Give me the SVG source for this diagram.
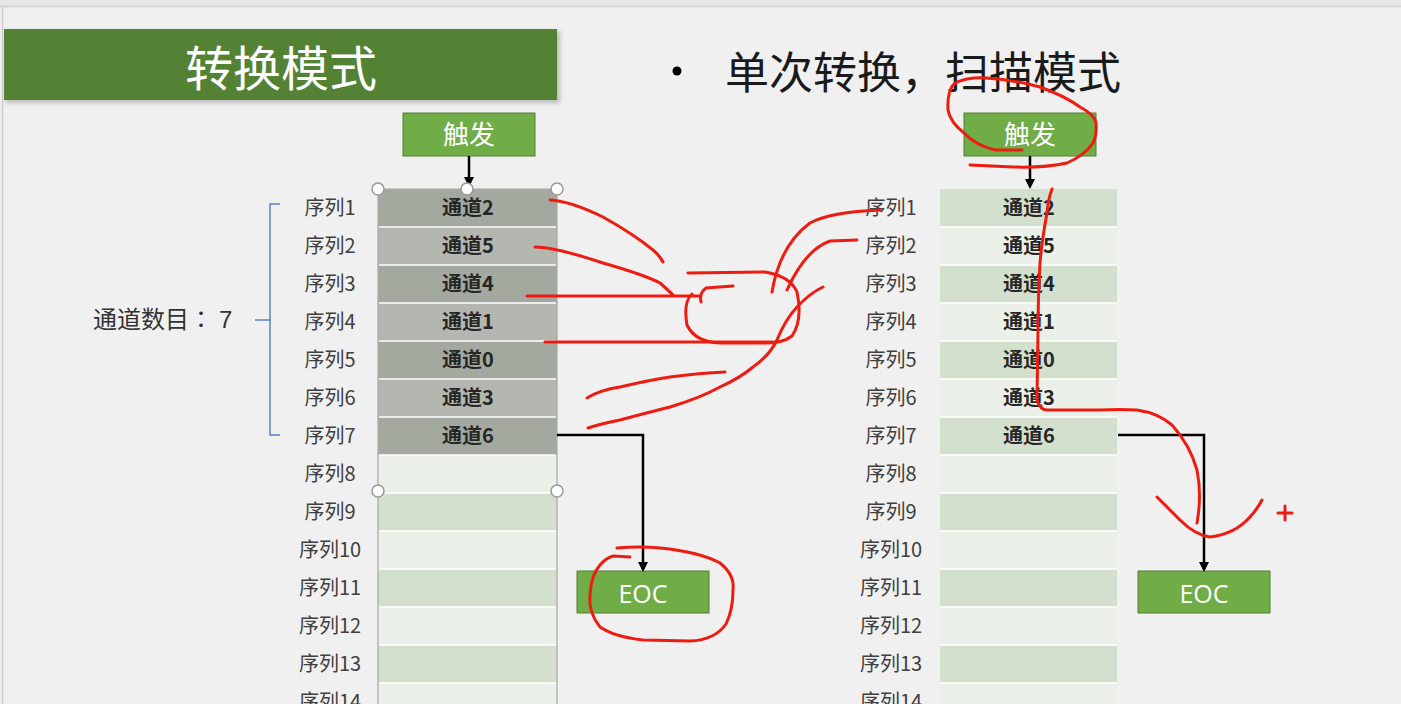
<svg xmlns="http://www.w3.org/2000/svg" width="1401" height="704" viewBox="0 0 1401 704">
<defs>
<style>
.t{font-family:"Noto Sans CJK SC","Liberation Sans",sans-serif;}
.lbl{font-family:"Noto Sans CJK SC",sans-serif;font-size:20px;fill:#404040;text-anchor:middle;}
.ch{font-family:"Noto Sans CJK SC",sans-serif;font-size:20px;font-weight:bold;fill:#262626;text-anchor:middle;}
.odd{fill:#d4e0ce;}
.even{fill:#ebf0e8;}
.godd{fill:#a4a9a0;}
.geven{fill:#b4b6b0;}
.sep{stroke:#ffffff;stroke-width:1.5;}
.box{fill:#70ad47;stroke:#507e32;stroke-width:1;}
.boxt{font-family:"Noto Sans CJK SC",sans-serif;font-size:26px;fill:#ffffff;text-anchor:middle;}
.eoct{font-family:"Open Sans","Liberation Sans",sans-serif;font-size:25px;fill:#ffffff;text-anchor:middle;}
.conn{fill:none;stroke:#000;stroke-width:2.5;}
.red{fill:none;stroke:#ee1c10;stroke-width:3;stroke-linecap:round;stroke-linejoin:round;}
.handle{fill:#fff;stroke:#9a9a9a;stroke-width:1.5;}
</style>
<marker id="ah" markerWidth="10" markerHeight="10" refX="7" refY="5" orient="auto" markerUnits="userSpaceOnUse">
<path d="M0,0 L10,5 L0,10 z" fill="#000"/>
</marker>
<filter id="sh" x="-5%" y="-20%" width="110%" height="150%">
<feGaussianBlur stdDeviation="2"/>
</filter>
</defs>
<rect x="0" y="0" width="1401" height="704" fill="#f0f0f0"/>
<rect x="0" y="0" width="1401" height="6" fill="#e6e6e6"/>
<line x1="0" y1="6.5" x2="1401" y2="6.5" stroke="#cfcfcf" stroke-width="1.5"/>
<line x1="2.5" y1="7" x2="2.5" y2="704" stroke="#cccccc" stroke-width="1.5"/>

<g id="title">
<rect x="6" y="31" width="554" height="72" fill="#888" opacity="0.5" filter="url(#sh)"/>
<rect x="4" y="29" width="553" height="71" fill="#548235"/>
<text x="281" y="86" class="t" font-size="48" fill="#ffffff" text-anchor="middle">转换模式</text>
</g>
<g id="bullet">
<circle cx="677" cy="71" r="4.5" fill="#000"/>
<text x="725" y="89" class="t" font-size="44" fill="#1a1a1a">单次转换，扫描模式</text>
</g>

<g id="count-label">
<text x="93" y="328" class="t" font-size="24" fill="#333">通道数目<tspan x="189" font-family="Noto Sans CJK TC, sans-serif">：</tspan><tspan x="219" font-family="Liberation Sans, sans-serif">7</tspan></text>
<path d="M280,204 L270,204 L270,435 L280,435 M270,320 L255,320" fill="none" stroke="#5b80c0" stroke-width="1.5"/>
</g>

<g id="left-table">
<rect x="378" y="189" width="179" height="38" class="godd"/>
<rect x="378" y="227" width="179" height="38" class="geven"/>
<rect x="378" y="265" width="179" height="38" class="godd"/>
<rect x="378" y="303" width="179" height="38" class="geven"/>
<rect x="378" y="341" width="179" height="38" class="godd"/>
<rect x="378" y="379" width="179" height="38" class="geven"/>
<rect x="378" y="417" width="179" height="38" class="godd"/>
<rect x="378" y="455" width="179" height="38" class="even"/>
<rect x="378" y="493" width="179" height="38" class="odd"/>
<rect x="378" y="531" width="179" height="38" class="even"/>
<rect x="378" y="569" width="179" height="38" class="odd"/>
<rect x="378" y="607" width="179" height="38" class="even"/>
<rect x="378" y="645" width="179" height="38" class="odd"/>
<rect x="378" y="683" width="179" height="38" class="even"/>
<path class="sep" d="M379,227H556M379,265H556M379,303H556M379,341H556M379,379H556M379,417H556M379,455H556M379,493H556M379,531H556M379,569H556M379,607H556M379,645H556M379,683H556"/>
<path d="M378,704V189H557V704" fill="none" stroke="#a8a8a8" stroke-width="1.2"/>
<text x="468" y="215" class="ch">通道2</text>
<text x="468" y="253" class="ch">通道5</text>
<text x="468" y="291" class="ch">通道4</text>
<text x="468" y="329" class="ch">通道1</text>
<text x="468" y="367" class="ch">通道0</text>
<text x="468" y="405" class="ch">通道3</text>
<text x="468" y="443" class="ch">通道6</text>
<text x="330" y="215" class="lbl">序列1</text>
<text x="330" y="253" class="lbl">序列2</text>
<text x="330" y="291" class="lbl">序列3</text>
<text x="330" y="329" class="lbl">序列4</text>
<text x="330" y="367" class="lbl">序列5</text>
<text x="330" y="405" class="lbl">序列6</text>
<text x="330" y="443" class="lbl">序列7</text>
<text x="330" y="481" class="lbl">序列8</text>
<text x="330" y="519" class="lbl">序列9</text>
<text x="330" y="557" class="lbl">序列10</text>
<text x="330" y="595" class="lbl">序列11</text>
<text x="330" y="633" class="lbl">序列12</text>
<text x="330" y="671" class="lbl">序列13</text>
<text x="330" y="709" class="lbl">序列14</text>
</g>

<g id="right-table">
<rect x="940" y="189" width="177" height="38" class="odd"/>
<rect x="940" y="227" width="177" height="38" class="even"/>
<rect x="940" y="265" width="177" height="38" class="odd"/>
<rect x="940" y="303" width="177" height="38" class="even"/>
<rect x="940" y="341" width="177" height="38" class="odd"/>
<rect x="940" y="379" width="177" height="38" class="even"/>
<rect x="940" y="417" width="177" height="38" class="odd"/>
<rect x="940" y="455" width="177" height="38" class="even"/>
<rect x="940" y="493" width="177" height="38" class="odd"/>
<rect x="940" y="531" width="177" height="38" class="even"/>
<rect x="940" y="569" width="177" height="38" class="odd"/>
<rect x="940" y="607" width="177" height="38" class="even"/>
<rect x="940" y="645" width="177" height="38" class="odd"/>
<rect x="940" y="683" width="177" height="38" class="even"/>
<path class="sep" d="M940,227H1117M940,265H1117M940,303H1117M940,341H1117M940,379H1117M940,417H1117M940,455H1117M940,493H1117M940,531H1117M940,569H1117M940,607H1117M940,645H1117M940,683H1117"/>
<text x="1029" y="215" class="ch">通道2</text>
<text x="1029" y="253" class="ch">通道5</text>
<text x="1029" y="291" class="ch">通道4</text>
<text x="1029" y="329" class="ch">通道1</text>
<text x="1029" y="367" class="ch">通道0</text>
<text x="1029" y="405" class="ch">通道3</text>
<text x="1029" y="443" class="ch">通道6</text>
<text x="891" y="215" class="lbl">序列1</text>
<text x="891" y="253" class="lbl">序列2</text>
<text x="891" y="291" class="lbl">序列3</text>
<text x="891" y="329" class="lbl">序列4</text>
<text x="891" y="367" class="lbl">序列5</text>
<text x="891" y="405" class="lbl">序列6</text>
<text x="891" y="443" class="lbl">序列7</text>
<text x="891" y="481" class="lbl">序列8</text>
<text x="891" y="519" class="lbl">序列9</text>
<text x="891" y="557" class="lbl">序列10</text>
<text x="891" y="595" class="lbl">序列11</text>
<text x="891" y="633" class="lbl">序列12</text>
<text x="891" y="671" class="lbl">序列13</text>
<text x="891" y="709" class="lbl">序列14</text>
</g>

<g id="trigger-left">
<rect x="403" y="113" width="132" height="43" class="box"/>
<text x="469" y="144" class="boxt">触发</text>
</g>
<g id="trigger-right">
<rect x="964" y="113" width="132" height="43" class="box"/>
<text x="1030" y="144" class="boxt">触发</text>
</g>
<g id="eoc-left">
<rect x="577" y="571" width="132" height="42" class="box"/>
<text x="643" y="603" class="eoct">EOC</text>
</g>
<g id="eoc-right">
<rect x="1138" y="571" width="132" height="42" class="box"/>
<text x="1204" y="603" class="eoct">EOC</text>
</g>

<g id="connectors">
<path class="conn" d="M469,156 V184" marker-end="url(#ah)"/>
<path class="conn" d="M1030,156 V186" marker-end="url(#ah)"/>
<path class="conn" d="M557,435 H643 V569" marker-end="url(#ah)"/>
<path class="conn" d="M1118,435 H1204 V569" marker-end="url(#ah)"/>
</g>

<g id="handles">
<circle cx="378" cy="189" r="6" class="handle"/>
<circle cx="467" cy="189" r="6" class="handle"/>
<circle cx="557" cy="189" r="6" class="handle"/>
<circle cx="378" cy="491" r="6" class="handle"/>
<circle cx="557" cy="491" r="6" class="handle"/>
</g>

<g id="annotations">
<path class="red" d="M550,200 Q570,201 603,217 Q635,235 653,250 Q660,256 663,262"/>
<path class="red" d="M535,247 Q555,247 603,263 Q645,275 660,283 Q668,290 673,295"/>
<path class="red" d="M527,296 L700,296"/>
<path class="red" d="M701,302 Q699,293 706,288 L733,286"/>
<path class="red" d="M688,273 L765,272 Q790,276 797,292 Q803,320 792,336 Q782,344 760,343 L720,343 Q695,342 687,325 Q683,302 692,294"/>
<path class="red" d="M545,342 L773,342"/>
<path class="red" d="M587,398 Q600,390 620,387 Q650,380 670,377 Q700,373 725,372"/>
<path class="red" d="M588,428 Q600,424 620,420 Q650,412 670,407 Q700,398 720,387 Q740,378 753,367 Q770,355 777,340 Q785,320 797,307 Q810,293 823,287"/>
<path class="red" d="M772,292 Q780,245 810,223 Q830,212 880,210"/>
<path class="red" d="M787,290 Q805,250 830,241 L857,240"/>
<path class="red" d="M1022,150 L995,150 Q975,145 964,133 Q950,122 948,110 Q947,90 955,83 Q968,77 986,78 Q1015,80 1040,87 Q1065,96 1080,107 Q1095,115 1096,123 Q1097,135 1093,143 Q1085,155 1067,163 Q1045,168 1013,167 L970,165"/>
<path class="red" d="M1052,189 Q1048,200 1047,213 Q1042,240 1040,263 Q1038,300 1038,330 L1037,400 Q1040,410 1047,410 L1100,410 Q1120,409 1137,410 Q1158,413 1172,425 Q1190,445 1197,470 Q1202,495 1197,523"/>
<path class="red" d="M1157,497 Q1170,510 1180,520 Q1195,535 1210,537 Q1235,534 1250,517 Q1258,508 1262,500"/>
<path class="red" d="M1278,513 H1292 M1285,506 V520" stroke-width="2.5"/>
<path class="red" d="M617,548 Q640,546 660,548 Q700,552 720,563 Q735,575 733,590 Q733,610 726,624 Q715,640 690,641 L643,640 Q615,637 600,627 Q588,612 590,595 Q591,575 600,565 Q606,558 613,556 L630,557"/>
</g>
</svg>
